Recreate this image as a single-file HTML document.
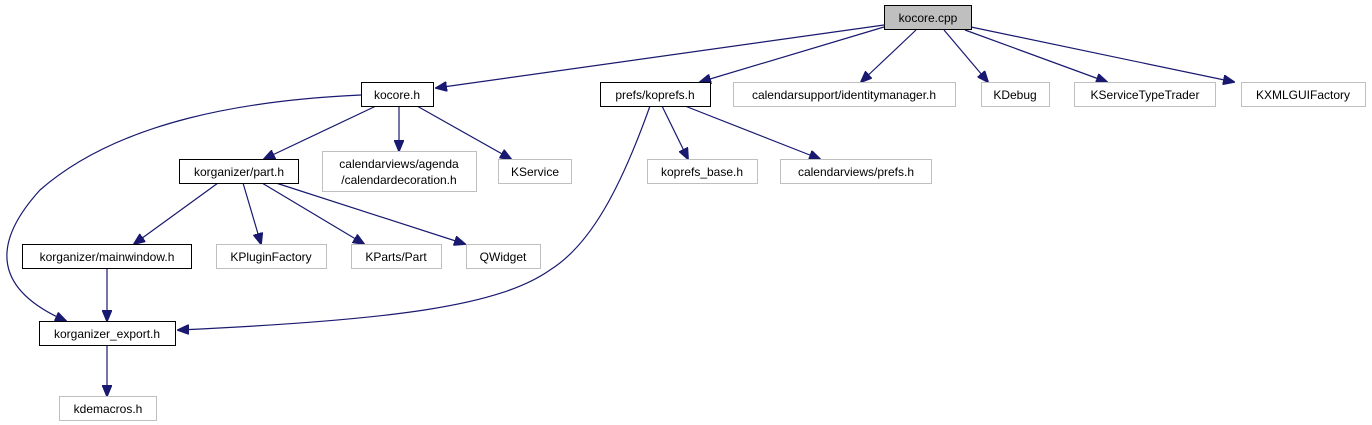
<!DOCTYPE html>
<html><head><meta charset="utf-8"><style>
html,body{margin:0;padding:0;background:#fff;}
svg{display:block;}
text{font-family:"Liberation Sans",sans-serif;font-size:12px;fill:#000;}
</style></head><body>
<svg width="1372" height="425" viewBox="0 0 1372 425" xmlns="http://www.w3.org/2000/svg">
<defs>
<marker id="a" markerWidth="12" markerHeight="10" refX="11" refY="5" orient="auto" markerUnits="userSpaceOnUse">
<path d="M0,0 L12,5 L0,10 Z" fill="#191970" stroke="#191970"/>
</marker>
</defs>
<g fill="none" stroke="#191970" stroke-width="1.2" marker-end="url(#a)">
<path d="M884,25 L436,88"/>
<path d="M884,27 L700,82"/>
<path d="M916,30 L861,82"/>
<path d="M944,30 L988,82"/>
<path d="M965,30 L1107,82"/>
<path d="M971,27 L1234,82"/>
<path d="M361,95 C250,100 120,120 40,190 C-10,245 -5,290 66,321"/>
<path d="M376,106 L264,159"/>
<path d="M399,106 L399,151"/>
<path d="M417,106 L511,159"/>
<path d="M650,106 C620,190 590,245 550,270 C500,305 400,320 178,330"/>
<path d="M662,106 L688,159"/>
<path d="M685,106 L820,159"/>
<path d="M218,183 L134,244"/>
<path d="M243,183 L261,244"/>
<path d="M262,183 L364,244"/>
<path d="M276,183 L465,244"/>
<path d="M107,268 L107,321"/>
<path d="M107,345 L107,396"/>
</g>
<g stroke-width="1">
<rect x="884.5" y="5.5" width="87" height="24" fill="#bfbfbf" stroke="#000"/>
<rect x="361.5" y="82.5" width="72" height="24" fill="#fff" stroke="#000"/>
<rect x="600.5" y="82.5" width="110" height="24" fill="#fff" stroke="#000"/>
<rect x="733.5" y="82.5" width="222" height="24" fill="#fff" stroke="#bfbfbf"/>
<rect x="981.5" y="82.5" width="68" height="24" fill="#fff" stroke="#bfbfbf"/>
<rect x="1074.5" y="82.5" width="141" height="24" fill="#fff" stroke="#bfbfbf"/>
<rect x="1241.5" y="82.5" width="124" height="24" fill="#fff" stroke="#bfbfbf"/>
<rect x="179.5" y="159.5" width="119" height="24" fill="#fff" stroke="#000"/>
<rect x="322.5" y="151.5" width="154" height="40" fill="#fff" stroke="#bfbfbf"/>
<rect x="498.5" y="159.5" width="73" height="24" fill="#fff" stroke="#bfbfbf"/>
<rect x="647.5" y="159.5" width="110" height="24" fill="#fff" stroke="#bfbfbf"/>
<rect x="780.5" y="159.5" width="151" height="24" fill="#fff" stroke="#bfbfbf"/>
<rect x="22.5" y="244.5" width="169" height="24" fill="#fff" stroke="#000"/>
<rect x="216.5" y="244.5" width="110" height="24" fill="#fff" stroke="#bfbfbf"/>
<rect x="351.5" y="244.5" width="90" height="24" fill="#fff" stroke="#bfbfbf"/>
<rect x="466.5" y="244.5" width="74" height="24" fill="#fff" stroke="#bfbfbf"/>
<rect x="39.5" y="321.5" width="136" height="24" fill="#fff" stroke="#000"/>
<rect x="59.5" y="396.5" width="97" height="24" fill="#fff" stroke="#bfbfbf"/>
</g>
<g text-anchor="middle">
<text x="928" y="22">kocore.cpp</text>
<text x="397" y="99">kocore.h</text>
<text x="655" y="99">prefs/koprefs.h</text>
<text x="844" y="99">calendarsupport/identitymanager.h</text>
<text x="1015" y="99">KDebug</text>
<text x="1145" y="99">KServiceTypeTrader</text>
<text x="1303" y="99">KXMLGUIFactory</text>
<text x="239" y="176">korganizer/part.h</text>
<text x="399" y="168">calendarviews/agenda</text>
<text x="399" y="184">/calendardecoration.h</text>
<text x="535" y="176">KService</text>
<text x="702" y="176">koprefs_base.h</text>
<text x="856" y="176">calendarviews/prefs.h</text>
<text x="107" y="261">korganizer/mainwindow.h</text>
<text x="271" y="261">KPluginFactory</text>
<text x="396" y="261">KParts/Part</text>
<text x="503" y="261">QWidget</text>
<text x="107" y="338">korganizer_export.h</text>
<text x="108" y="413">kdemacros.h</text>
</g>
</svg>
</body></html>
